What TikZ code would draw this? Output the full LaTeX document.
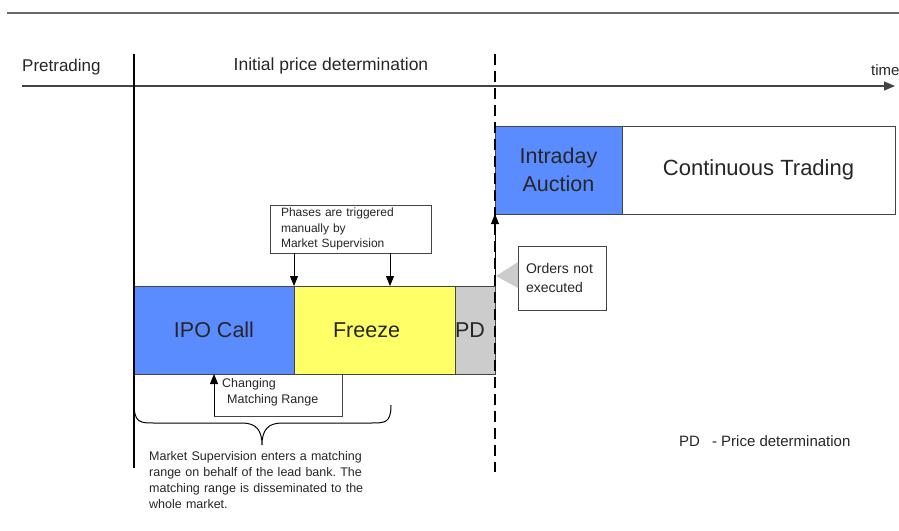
\documentclass[tikz,border=0pt]{standalone}
\usepackage{fontspec}
\setmainfont{Liberation Sans}
\usetikzlibrary{positioning,arrows.meta}
\definecolor{phaseblue}{HTML}{5B8CFF}
\definecolor{phaseyellow}{HTML}{FFFF66}
\definecolor{phasegray}{HTML}{CCCCCC}
\definecolor{linegray}{HTML}{444444}
\frenchspacing

\begin{document}
\begin{tikzpicture}[
        %Environment config
        x=1pt,y=-1pt,
        text=black!85,
        %Environment styles
        PhaseBox/.style={
            draw=linegray,
            line width=1pt,
            inner sep=0pt,
            outer sep=0pt,
            minimum height=88pt,
            anchor=north west,
            font=\fontsize{21.5}{28}\selectfont
        },
        NoteBox/.style={
            draw=linegray,
            line width=1pt,
            fill=white,
            align=left,
            anchor=north west,
            outer sep=0pt,
            inner ysep=0pt
        },
        PlainText/.style={
            inner sep=0pt,
            align=left
        },
        Pointer/.style={
            -{Triangle[length=10pt,width=8pt]},
            line width=0.9pt
        }
    ]
    \useasboundingbox (0,0) rectangle (899,530);

    % header and time axis
    \draw[linegray!80,line width=1.6pt] (7,13) -- (899,13);
    \path
        (22,86) coordinate (axisL)
        (895,86) coordinate (axisR)
        (22,71) node[PlainText,anchor=base west,font=\fontsize{17}{20}\selectfont](pre){Pretrading}
        (331,70) node[PlainText,anchor=base,font=\fontsize{17.5}{20}\selectfont](initial){Initial price determination}
        (871,75) node[PlainText,anchor=base west,font=\fontsize{15}{18}\selectfont](time){time};
    \draw[linegray,line width=1.2pt,-{Triangle[length=11pt,width=9pt]}] (axisL) -- (axisR);

    % phase boxes
    \path
        (134,286) node[PhaseBox,fill=phaseblue,minimum width=160pt](IPO){IPO Call}
        (IPO.north east) node[PhaseBox,fill=phaseyellow,minimum width=161pt,
            text width=145pt,align=center](Freeze){Freeze\hspace*{16pt}}
        (Freeze.north east) node[PhaseBox,fill=phasegray,minimum width=40pt,
            text width=40pt,align=left](PD){PD}
        (495,126) node[PhaseBox,fill=phaseblue,minimum width=127pt,align=center,
            font=\fontsize{21.5}{28.5}\selectfont](Intraday){Intraday\\Auction}
        (Intraday.north east) node[PhaseBox,fill=white,minimum width=273pt,
            font=\fontsize{22}{26}\selectfont](Continuous){Continuous Trading};

    % phase borders
    \path
        (134,54) coordinate (preEnd)
        (134,468) coordinate (preEndLow)
        (495,54) coordinate (ipdEnd)
        (495,472) coordinate (ipdEndLow);
    \draw[black,line width=1.1pt] (preEnd) -- (preEndLow);
    \draw[black,line width=1.8pt,dash pattern=on 11pt off 6pt] (ipdEnd) -- (ipdEndLow);
    \draw[Pointer] (PD.north east) -- (Intraday.south west);

    % notes
    \path
        (270,205) node[NoteBox,minimum height=48pt,text width=139pt,inner xsep=11pt,
            font=\fontsize{12}{15.5}\selectfont](Phases){Phases are triggered\\manually by\\Market Supervision}
        (518,246) node[NoteBox,minimum height=64pt,text width=72pt,inner xsep=8pt,
            font=\fontsize{14}{19}\selectfont](Orders){Orders not\\executed}
        (222,378) node[PlainText,anchor=north west,
            font=\fontsize{12.5}{16}\selectfont](Range){Changing\\\hspace*{5pt}Matching Range}
        (149,451) node[PlainText,anchor=north west,text width=240pt,
            font=\fontsize{12.5}{16}\selectfont](Entry){Market Supervision enters a matching\\
            range on behalf of the lead bank. The\\matching range is disseminated to the\\
            whole market.}
        (679,446) node[PlainText,anchor=base west,
            font=\fontsize{15}{18}\selectfont](Legend){PD\hspace{12pt}- Price determination};

    \fill[phasegray] (Orders.west) ++(0,-16) -- ++(0,26) -- ++(-22,-12) -- cycle;

    \path
        (Phases.south -| Freeze.north west) coordinate (trigA)
        (390,253) coordinate (trigB)
        (214,416) coordinate (rangeL)
        (342,416) coordinate (rangeR);
    \draw[Pointer] (trigA) -- (Freeze.north west);
    \draw[Pointer] (trigB) -- (trigB |- Freeze.north);
    \draw[linegray,line width=1pt] (Freeze.south -| rangeR) -- (rangeR) -- (rangeL);
    \draw[Pointer] (rangeL) -- (rangeL |- IPO.south);

    % brace
    \draw[black,line width=1pt]
        (134,403) .. controls (134,423) and (140,423) .. (154,423) -- (242,423)
        .. controls (256,423) and (262,430) .. (262,445)
        .. controls (262,430) and (268,423) .. (282,423) -- (371,423)
        .. controls (385,423) and (391,423) .. (391,405);
\end{tikzpicture}
\end{document}
